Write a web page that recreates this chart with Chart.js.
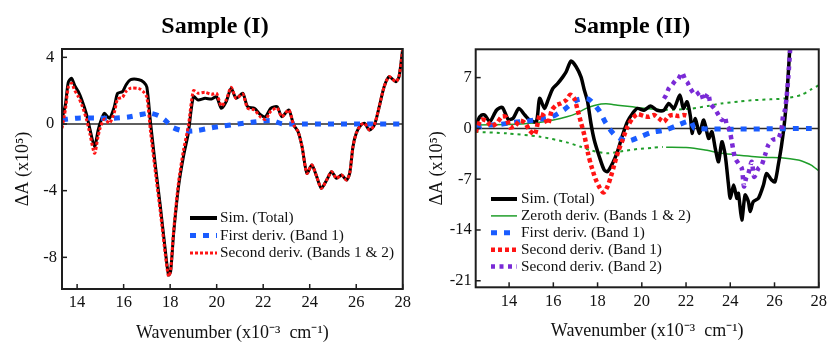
<!DOCTYPE html>
<html><head><meta charset="utf-8">
<script src="https://cdn.jsdelivr.net/npm/chart.js@4.4.1/dist/chart.umd.min.js"></script>
<style>
html,body{margin:0;padding:0;background:#fff;width:831px;height:342px;overflow:hidden}
canvas{position:absolute;top:0}
#c1{left:0}
#c2{left:415px}
</style></head><body>
<canvas id="c1" width="415" height="342"></canvas>
<canvas id="c2" width="416" height="342"></canvas>
<script>
// ---------- Sample (I) ----------
const simX1 = [13.35,13.5,13.62,13.76,13.9,14.05,14.2,14.4,14.55,14.75,14.9,15.0,15.17,15.39,15.6,15.74,15.95,16.1,16.3,16.66,16.87,17.0,17.16,17.37,17.58,17.79,17.93,18.02,18.15,18.36,18.57,18.78,19.0,19.2,19.5,19.78,19.99,20.2,20.41,20.62,20.84,21.12,21.33,21.62,21.9,22.1,22.32,22.6,22.8,23.1,23.31,23.5,23.67,23.88,24.09,24.3,24.5,24.73,24.94,25.15,25.37,25.58,25.72,25.86,26.0,26.2,26.36,26.57,26.78,26.99,27.2,27.42,27.7,27.84,28.0];
const simY1 = [0.3,1.2,2.5,2.74,2.3,1.95,1.45,0.6,-0.3,-1.36,-0.4,0.1,0.64,0.34,1.04,1.84,1.94,2.34,2.66,2.66,2.5,2.2,0.04,-2.56,-4.96,-7.56,-9.06,-8.86,-6.56,-3.76,-1.96,-0.56,1.64,1.44,1.54,1.5,1.64,0.94,1.34,2.14,1.54,1.84,1.04,0.94,0.54,0.44,0.94,1.04,0.44,0.84,-0.06,-0.46,-1.36,-2.96,-2.46,-3.16,-3.86,-3.36,-2.86,-3.26,-3.06,-3.36,-2.96,-1.36,-0.56,-0.06,0.04,-0.36,-0.06,1.04,2.24,2.84,2.54,2.84,4.54];
const sec12Y1 = [-0.25,0.9,2.2,2.45,2.0,1.65,1.15,0.3,-0.6,-1.76,-0.75,-0.2,0.3,0.05,0.7,1.5,1.6,1.95,2.15,2.12,1.9,1.6,-0.5,-2.95,-5.3,-7.8,-9.15,-8.8,-6.4,-3.5,-1.6,-0.15,2.0,1.85,1.9,1.78,1.84,1.08,1.45,2.2,1.54,1.8,0.95,0.84,0.4,0.28,0.76,0.96,0.44,0.84,-0.06,-0.46,-1.36,-2.96,-2.46,-3.16,-3.86,-3.36,-2.86,-3.26,-3.06,-3.36,-2.96,-1.36,-0.56,-0.06,0.04,-0.36,-0.06,1.04,2.24,2.84,2.54,2.84,4.54];
const firstX1 = [13.35,14.0,15.0,15.6,16.2,16.7,17.1,17.5,17.8,18.1,18.6,19.2,19.8,20.3,20.9,21.5,22.0,22.4,22.8,23.2,28.0];
const firstY1 = [0.25,0.35,0.35,0.35,0.42,0.55,0.65,0.5,0.2,-0.2,-0.42,-0.38,-0.22,-0.12,0.0,0.1,0.18,0.2,0.02,0.0,0.0];
const xTicks1 = [14,16,18,20,22,24,26,28];
const yTicks1 = [-8,-4,0,4];

// ---------- Sample (II) ----------
const simX2 = [12.49,12.6,12.76,12.91,13.13,13.43,13.69,13.96,14.18,14.44,14.71,14.93,15.23,15.38,15.6,15.76,15.98,16.2,16.43,16.58,16.8,17.03,17.25,17.4,17.55,17.7,17.85,18.08,18.3,18.45,18.68,18.9,19.13,19.35,19.58,19.8,20.1,20.4,20.7,21.0,21.22,21.45,21.72,21.88,22.05,22.2,22.27,22.42,22.6,22.8,23.02,23.17,23.32,23.47,23.62,23.77,23.92,24.0,24.15,24.3,24.37,24.52,24.67,24.82,24.9,25.04,25.27,25.5,25.64,25.87,26.02,26.17,26.32,26.47,26.59,26.69];
const simY2 = [0.23,1.2,1.84,1.8,0.92,2.5,2.9,1.24,1.4,2.75,1.84,1.15,0.92,4.13,2.75,3.9,5.5,6.2,7.1,7.8,9.27,8.5,7.1,5.3,3.67,0.69,-1.6,-3.9,-5.73,-5.96,-4.8,-3.2,-0.92,0.92,2.06,2.75,2.5,3.07,2.5,2.5,3.44,2.75,4.59,2.75,3.67,1.6,-0.69,1.38,-0.69,1.14,-1.38,-0.47,-2.75,-4.6,-1.84,-3.68,-7.8,-9.64,-7.8,-9.64,-8.95,-12.63,-9.18,-10.1,-11.47,-10.1,-9.64,-7.8,-6.2,-7.12,-7.35,-5.05,-2.3,1.38,5.96,11.0];
const zerX2 = [12.49,13.9,14.7,15.41,16.0,16.61,17.0,17.48,17.9,18.38,18.9,19.57,20.0,20.5,20.95,21.0,21.1,22.0,22.8,23.62,24.4,25.12,25.7,26.3,27.07,27.4,27.66,28.0];
const zerY2 = [0.46,0.55,0.65,0.83,1.15,1.6,2.0,2.75,3.2,3.4,3.2,2.98,2.8,2.66,2.55,null,-2.6,-2.65,-2.95,-3.44,-3.7,-3.9,-4.0,-4.05,-4.37,-4.7,-5.05,-5.84];
const zerDotX2 = [12.49,13.91,15.41,16.61,17.2,17.66,18.41,19.16,19.8,20.5,20.95,21.0,21.05,22.2,23.0,23.6,24.4,25.1,25.8,26.47,27.2,27.66,28.0];
const zerDotY2 = [-0.47,-0.69,-1.15,-1.93,-2.5,-2.99,-3.44,-3.13,-2.85,-2.67,-2.55,null,2.55,2.7,3.1,3.44,3.7,3.9,4.0,4.13,4.6,5.37,5.96];
const firstX2 = [12.49,13.09,13.61,14.21,14.81,15.4,15.93,16.46,17.06,17.58,18.08,18.38,18.78,19.33,19.93,20.45,21.07,21.64,22.2,22.4,27.7];
const firstY2 = [0.1,0.45,0.55,0.83,1.0,1.25,1.6,2.52,3.9,4.04,2.42,0.69,-0.92,-1.75,-1.15,-0.55,-0.23,0.46,1.0,0.0,0.0];
const sec1X2 = [12.49,12.73,12.98,13.2,13.43,13.69,13.88,14.03,14.26,14.48,14.71,14.93,15.16,15.4,15.58,15.76,15.93,16.13,16.33,16.58,16.77,16.95,17.08,17.25,17.4,17.58,17.72,17.9,18.1,18.27,18.45,18.6,18.75,18.93,19.13,19.35,19.58,19.8,20.1,20.33,20.55,20.77,21.0,21.22,21.45,21.67,21.9,22.1];
const sec1Y2 = [-0.5,1.2,1.05,0.32,0.69,1.65,1.5,0.15,0.32,1.05,0.78,-0.3,-0.83,1.95,1.7,0.6,2.5,3.2,3.44,3.9,4.65,4.1,2.75,0.8,-0.9,-3.6,-5.2,-6.9,-8.2,-8.85,-8.0,-6.65,-5.05,-3.2,-1.6,0.23,1.38,1.97,1.7,1.6,1.84,1.38,0.92,1.7,1.84,1.7,1.84,1.7];
const sec2X2 = [21.0,21.1,21.22,21.37,21.52,21.65,21.82,21.97,22.05,22.2,22.42,22.65,22.8,23.0,23.1,23.32,23.47,23.62,23.75,23.85,23.92,24.0,24.07,24.15,24.22,24.37,24.52,24.62,24.72,24.82,24.97,25.08,25.27,25.42,25.57,25.72,25.9,26.17,26.32,26.39,26.47,26.54,26.62,26.72];
const sec2Y2 = [4.1,4.6,5.5,6.0,6.6,6.8,7.66,6.65,6.4,5.5,4.6,5.05,3.9,4.8,3.44,2.6,1.83,1.14,1.6,0.3,0.0,-0.69,-1.84,-3.22,-4.13,-4.82,-5.51,-8.0,-6.8,-6.2,-4.6,-6.67,-5.51,-5.05,-3.68,-2.3,-1.6,-1.38,0.0,1.83,2.5,4.13,6.88,11.5];
const xTicks2 = [14,16,18,20,22,24,26,28];
const yTicks2 = [-21,-14,-7,0,7];

const FAM = '"Liberation Serif","Times New Roman",serif';
const pts = (xs, ys) => xs.map((x, i) => ({x: x, y: ys[i]}));

function decor(cfg) {
  return {
    id: 'decor',
    beforeDatasetsDraw(chart) {
      const {ctx, chartArea: a, scales: {y}} = chart;
      const y0 = y.getPixelForValue(0);
      ctx.save();
      ctx.strokeStyle = '#2a2a2a'; ctx.lineWidth = 1.5;
      ctx.beginPath(); ctx.moveTo(a.left, y0); ctx.lineTo(a.right, y0); ctx.stroke();
      ctx.restore();
    },
    afterDraw(chart) {
      const {ctx, chartArea: a, scales: {x, y}} = chart;
      ctx.save();
      ctx.strokeStyle = '#1e1e1e'; ctx.lineWidth = 2;
      ctx.strokeRect(a.left, a.top, a.right - a.left, a.bottom - a.top);
      ctx.lineWidth = 1.5;
      x.ticks.forEach(t => { const px = x.getPixelForValue(t.value);
        ctx.beginPath(); ctx.moveTo(px, a.bottom); ctx.lineTo(px, a.bottom - 5); ctx.stroke(); });
      y.ticks.forEach(t => { const py = y.getPixelForValue(t.value);
        ctx.beginPath(); ctx.moveTo(a.left, py); ctx.lineTo(a.left + 5, py); ctx.stroke(); });
      ctx.fillStyle = '#000';
      ctx.font = 'bold 24px ' + FAM;
      ctx.textAlign = 'center'; ctx.textBaseline = 'alphabetic';
      ctx.fillText(cfg.title, cfg.titleX, cfg.titleY);
      ctx.font = '15.3px ' + FAM;
      ctx.textAlign = 'left'; ctx.textBaseline = 'middle';
      cfg.legend.forEach((idx, i) => {
        const ds = chart.data.datasets[idx];
        const yy = cfg.legY + i * cfg.legDy;
        ctx.save();
        ctx.strokeStyle = ds.borderColor; ctx.lineWidth = ds.legendWidth || ds.borderWidth;
        ctx.setLineDash(ds.borderDash || []); ctx.lineCap = 'butt';
        ctx.beginPath(); ctx.moveTo(cfg.legX0, yy); ctx.lineTo(cfg.legX1, yy); ctx.stroke();
        ctx.restore();
        ctx.fillStyle = '#111';
        ctx.fillText(ds.label, cfg.legTx, yy);
      });
      ctx.restore();
    }
  };
}

function makeOptions(o) {
  return {
    responsive: false, animation: false, devicePixelRatio: 1,
    layout: {padding: {top: o.padTop, right: o.padRight, left: 0, bottom: 0}},
    plugins: {legend: {display: false}, tooltip: {enabled: false}, title: {display: false}},
    elements: {point: {radius: 0}, line: {tension: 0.25, capBezierPoints: true}},
    scales: {
      x: {
        type: 'linear', min: o.xMin, max: o.xMax,
        afterBuildTicks: s => { s.ticks = o.xTicks.map(v => ({value: v})); },
        afterFit: s => { s.height = o.xH; },
        grid: {display: false, drawTicks: false}, border: {display: false},
        ticks: {font: {family: FAM, size: 16.5}, color: '#111', padding: 4, maxRotation: 0, autoSkip: false},
        title: {display: true, text: 'Wavenumber (x10\u207B\u00B3  cm\u207B\u00B9)', color: '#111',
                font: {family: FAM, size: 18, lineHeight: 1}, padding: {top: 0, bottom: o.xTitlePad}}
      },
      y: {
        type: 'linear', min: o.yMin, max: o.yMax,
        afterBuildTicks: s => { s.ticks = o.yTicks.map(v => ({value: v})); },
        afterFit: s => { s.width = o.yW; },
        grid: {display: false, drawTicks: false}, border: {display: false},
        ticks: {font: {family: FAM, size: 16.5}, color: '#111', padding: o.yTickPad, crossAlign: o.crossAlign},
        title: {display: true, text: '\u0394A (x10\u2075)', color: '#111',
                font: {family: FAM, size: 18, lineHeight: 1}, padding: {top: o.yTitlePad, bottom: 0}}
      }
    }
  };
}

const BLUE = '#1a5cff', RED = '#ff1414', GREEN = '#1f9e2a', PURPLE = '#7a2ad6';

new Chart(document.getElementById('c1'), {
  type: 'line',
  data: {datasets: [
    {label: 'Sim. (Total)', data: pts(simX1, simY1), borderColor: '#000', borderWidth: 3, legendWidth: 4, order: 3},
    {label: 'First deriv. (Band 1)', data: pts(firstX1, firstY1), borderColor: BLUE, borderWidth: 5, borderDash: [6, 7], order: 2},
    {label: 'Second deriv. (Bands 1 & 2)', data: pts(simX1, sec12Y1), borderColor: RED, borderWidth: 3, borderDash: [3, 2], order: 1}
  ]},
  options: makeOptions({padTop: 49, padRight: 8, xMin: 13.35, xMax: 28, yMin: -9.9, yMax: 4.5,
    xTicks: xTicks1, yTicks: yTicks1, xH: 53, yW: 62, yTickPad: 5, crossAlign: 'center',
    xTitlePad: 0, yTitlePad: 14}),
  plugins: [decor({title: 'Sample (I)', titleX: 215, titleY: 33, legend: [0, 1, 2],
    legX0: 190, legX1: 217, legTx: 220, legY: 218, legDy: 17.5})]
});

new Chart(document.getElementById('c2'), {
  type: 'line',
  data: {datasets: [
    {label: 'Sim. (Total)', data: pts(simX2, simY2), borderColor: '#000', borderWidth: 3.5, legendWidth: 4, order: 4},
    {label: 'Zeroth deriv. (Bands 1 & 2)', data: pts(zerX2, zerY2), borderColor: GREEN, borderWidth: 1.5, order: 6, spanGaps: false},
    {label: 'First deriv. (Band 1)', data: pts(firstX2, firstY2), borderColor: BLUE, borderWidth: 5, borderDash: [6, 7], order: 3},
    {label: 'Second deriv. (Band 1)', data: pts(sec1X2, sec1Y2), borderColor: RED, borderWidth: 4.5, borderDash: [4, 3], order: 2},
    {label: 'Second deriv. (Band 2)', data: pts(sec2X2, sec2Y2), borderColor: PURPLE, borderWidth: 4.5, borderDash: [4, 4.5], order: 1},
    {label: 'Zeroth deriv. (mirror)', data: pts(zerDotX2, zerDotY2), borderColor: GREEN, borderWidth: 2, borderDash: [3, 4], order: 5, spanGaps: false}
  ]},
  options: makeOptions({padTop: 49.3, padRight: 10, xMin: 12.49, xMax: 28, yMin: -21.9, yMax: 10.9,
    xTicks: xTicks2, yTicks: yTicks2, xH: 54.7, yW: 60.7, yTickPad: 4, crossAlign: 'near',
    xTitlePad: 1.3, yTitlePad: 13.5}),
  plugins: [decor({title: 'Sample (II)', titleX: 217, titleY: 33, legend: [0, 1, 2, 3, 4],
    legX0: 76, legX1: 102, legTx: 106, legY: 199, legDy: 16.9})]
});
</script>
</body></html>
